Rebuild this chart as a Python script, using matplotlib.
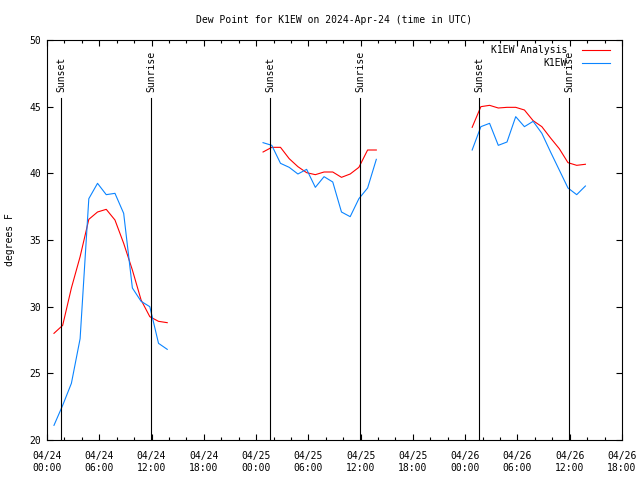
import matplotlib
matplotlib.use("Agg")
import matplotlib.pyplot as plt
from matplotlib.ticker import FixedLocator, MultipleLocator

# ---- data (hours since 2024-04-24 00:00 UTC) ----
red_t1 = [0.8, 1.8, 2.8, 3.8, 4.8, 5.8, 6.8, 7.8, 8.8, 9.8, 10.8, 11.8, 12.8, 13.8]
red_v1 = [28.0, 28.6, 31.4, 33.75, 36.55, 37.1, 37.3, 36.5, 34.75, 32.75, 30.5, 29.25, 28.9, 28.8]
blue_t1 = red_t1
blue_v1 = [21.1, 22.6, 24.25, 27.6, 38.1, 39.25, 38.4, 38.5, 37.0, 31.4, 30.4, 30.0, 27.25, 26.8]

red_t2 = [24.8, 25.8, 26.8, 27.8, 28.8, 29.8, 30.8, 31.8, 32.8, 33.8, 34.8, 35.8, 36.8, 37.8]
red_v2 = [41.6, 41.95, 41.95, 41.1, 40.5, 40.05, 39.9, 40.1, 40.1, 39.7, 39.95, 40.45, 41.75, 41.75]
blue_t2 = red_t2
blue_v2 = [42.3, 42.1, 40.75, 40.45, 39.95, 40.3, 38.95, 39.75, 39.35, 37.1, 36.75, 38.1, 38.9, 41.05]

red_t3 = [48.8, 49.8, 50.8, 51.8, 52.8, 53.8, 54.8, 55.8, 56.8, 57.8, 58.8, 59.8, 60.8, 61.8]
red_v3 = [43.45, 45.0, 45.1, 44.9, 44.95, 44.95, 44.75, 43.95, 43.5, 42.65, 41.85, 40.8, 40.6, 40.68]
blue_t3 = red_t3
blue_v3 = [41.75, 43.5, 43.75, 42.1, 42.35, 44.25, 43.5, 43.9, 43.0, 41.6, 40.25, 38.9, 38.4, 39.05]

sunset_t = [1.63, 25.62, 49.6]
sunrise_t = [11.98, 35.97, 59.95]

xtick_hours = [0, 6, 12, 18, 24, 30, 36, 42, 48, 54, 60, 66]
xtick_labels = ["04/24\n00:00", "04/24\n06:00", "04/24\n12:00", "04/24\n18:00",
                "04/25\n00:00", "04/25\n06:00", "04/25\n12:00", "04/25\n18:00",
                "04/26\n00:00", "04/26\n06:00", "04/26\n12:00", "04/26\n18:00"]
yticks = [20, 25, 30, 35, 40, 45, 50]

title = "Dew Point for K1EW on 2024-Apr-24 (time in UTC)"
ylabel = "degrees F"
series_names = ["K1EW Analysis", "K1EW"]

# ---- style ----
plt.rcParams['font.family'] = ['DejaVu Sans Mono']
plt.rcParams['font.size'] = 7
RED = '#ff0000'
BLUE = '#0a84ff'
LW = 0.8

fig = plt.figure(figsize=(6.4, 4.8), dpi=100)
ax = fig.add_axes([47/640, 1-440/480, (622-47)/640, 400/480])

first = True
for (rt, rv, bt, bv) in [(red_t1, red_v1, blue_t1, blue_v1),
                          (red_t2, red_v2, blue_t2, blue_v2),
                          (red_t3, red_v3, blue_t3, blue_v3)]:
    ax.plot(rt, rv, color=RED, lw=LW, label=series_names[0] if first else None)
    ax.plot(bt, bv, color=BLUE, lw=LW, label=series_names[1] if first else None)
    first = False

line_top = 45.63
for t in sunset_t:
    ax.plot([t, t], [20, line_top], color='black', lw=LW)
    ax.text(t, 46.1, "Sunset", rotation=90, ha='center', va='bottom', fontsize=7)
for t in sunrise_t:
    ax.plot([t, t], [20, line_top], color='black', lw=LW)
    ax.text(t, 46.1, "Sunrise", rotation=90, ha='center', va='bottom', fontsize=7)

ax.set_xlim(0, 66)
ax.set_ylim(20, 50)
ax.xaxis.set_major_locator(FixedLocator(xtick_hours))
ax.set_xticklabels(xtick_labels)
ax.xaxis.set_minor_locator(MultipleLocator(2))
ax.set_yticks(yticks)
ax.set_yticklabels([str(v) for v in yticks])
ax.tick_params(which='both', direction='in', top=True, right=True, width=0.8, colors='black')
ax.tick_params(which='major', length=4.5, pad=4)
ax.tick_params(which='minor', length=2.5)
ax.tick_params(axis='x', which='major', pad=8)
for s in ax.spines.values():
    s.set_linewidth(0.8)

ax.set_title(title, fontsize=7, pad=12)
ax.set_ylabel(ylabel, labelpad=10.5)

leg = ax.legend(loc='upper right', bbox_to_anchor=(610/640, 1-45/480),
                bbox_transform=fig.transFigure, frameon=False, markerfirst=False,
                handlelength=2.9, handletextpad=1.5, labelspacing=0.35,
                borderpad=0, borderaxespad=0)
for t in leg.get_texts():
    t.set_ha('right')

fig.savefig("out.png", dpi=100)
